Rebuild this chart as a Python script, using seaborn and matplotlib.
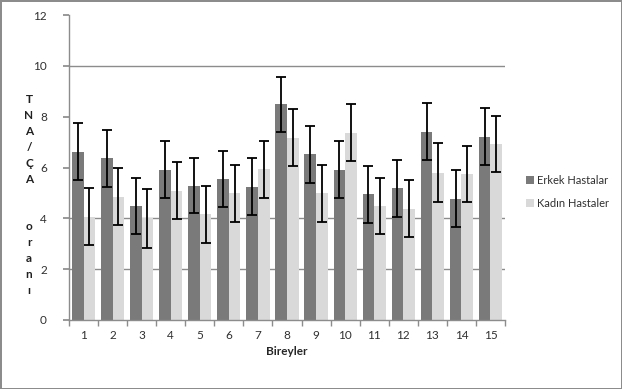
import pandas as pd
import numpy as np
import matplotlib
matplotlib.use("Agg")
import matplotlib.pyplot as plt
import seaborn as sns

# ── Data ──────────────────────────────────────────────────────
bireyler = [str(i) for i in range(1, 16)]
erkek = [6.63, 6.36, 4.49, 5.91, 5.29, 5.55, 5.25, 8.49, 6.52, 5.91, 4.95, 5.18, 7.41, 4.78, 7.22]
kadin = [4.07, 4.86, 4.00, 5.09, 4.17, 4.99, 5.94, 7.18, 4.99, 7.37, 4.49, 4.38, 5.80, 5.75, 6.92]
erkek_err = [1.12, 1.12, 1.12, 1.12, 1.09, 1.12, 1.12, 1.09, 1.12, 1.12, 1.12, 1.12, 1.12, 1.12, 1.12]
kadin_err = [1.12, 1.12, 1.15, 1.12, 1.12, 1.12, 1.12, 1.11, 1.12, 1.12, 1.12, 1.12, 1.15, 1.12, 1.10]
series = ["Erkek Hastalar", "Kadın Hastaler"]

df = pd.DataFrame({
    "birey": bireyler * 2,
    "deger": erkek + kadin,
    "grup": [series[0]] * 15 + [series[1]] * 15,
})

# ── Style ─────────────────────────────────────────────────────
sns.set_theme(style="white")
plt.rcParams["font.family"] = ["Lato", "DejaVu Sans"]

fig = plt.figure(figsize=(6.22, 3.89), dpi=100)
fig.patch.set_edgecolor("#8c8c8c")
fig.patch.set_linewidth(2)
ax = fig.add_axes([69 / 622, 1 - 320 / 389, 436 / 622, 304.8 / 389])

sns.barplot(data=df, x="birey", y="deger", hue="grup", ax=ax,
            palette=["#7a7a7a", "#d9d9d9"], errorbar=None, width=0.8,
            saturation=1, linewidth=0)

# error bars on top of the drawn bars
for cont, err in zip(ax.containers, [erkek_err, kadin_err]):
    xs = [p.get_x() + p.get_width() / 2 for p in cont.patches]
    hs = [p.get_height() for p in cont.patches]
    ax.errorbar(xs, hs, yerr=err, fmt="none", ecolor="black",
                elinewidth=1.3, capsize=3.5, capthick=1.3, zorder=5)

# ── Axes ──────────────────────────────────────────────────────
ax.set_ylim(0, 12)
ax.set_xlim(-0.5, 14.5)
ax.set_yticks(range(0, 13, 2))
for g in [2, 4, 10]:
    ax.axhline(g, color="#8c8c8c", lw=1, zorder=0)

for s in ["top", "right"]:
    ax.spines[s].set_visible(False)
for s in ["left", "bottom"]:
    ax.spines[s].set_color("#8c8c8c")
    ax.spines[s].set_linewidth(1)

ax.set_xticks(np.arange(-0.5, 15, 1), minor=True)
ax.tick_params(axis="x", which="major", length=0, pad=7, labelsize=8.5, labelcolor="#303030")
ax.tick_params(axis="x", which="minor", length=4, color="#8c8c8c", direction="out", bottom=True)
ax.tick_params(axis="y", length=4, color="#8c8c8c", direction="out", left=True, pad=12,
               labelsize=8.5, labelcolor="#303030")

ax.set_xlabel("Bireyler", fontsize=8.5, fontweight="bold", labelpad=4)
ax.set_ylabel("")
fig.text(29 / 622, 1 - 195 / 389, "T\nN\nA\n/\nÇ\nA\n\n\no\nr\na\nn\nı",
         ha="center", va="center", fontsize=8.5, fontweight="bold",
         linespacing=1.55, color="#202020")

leg = ax.legend(loc="center left", bbox_to_anchor=(516 / 622, 1 - 192 / 389),
                bbox_transform=fig.transFigure, frameon=False, fontsize=8,
                handlelength=0.7, handleheight=0.7, handletextpad=0.3,
                labelspacing=1.1)
for t in leg.get_texts():
    t.set_color("#303030")

fig.savefig("out.png", dpi=100)
